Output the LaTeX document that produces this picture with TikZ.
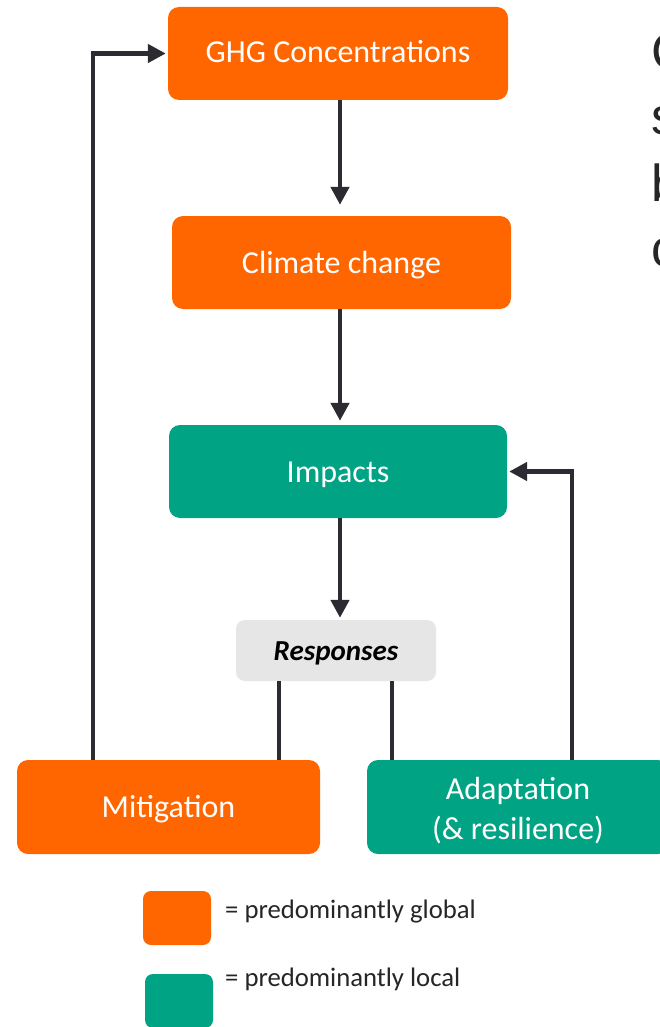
\documentclass[tikz,border=0pt]{standalone}
\usepackage{fontspec}
\setmainfont{Carlito}
\newfontfamily\arialfont{Liberation Sans}
\usetikzlibrary{arrows.meta}
\definecolor{gorange}{HTML}{FF6600}
\definecolor{lgreen}{HTML}{00A383}
\definecolor{rgray}{HTML}{E6E6E6}
\definecolor{linec}{HTML}{2B2B31}
\definecolor{txtc}{HTML}{262626}
\tikzset{
  box/.style={rounded corners=11pt, minimum width=#1, minimum height=93pt, inner sep=0pt, text=white, align=center, text height=28pt, text depth=7pt, font=\fontsize{32}{38}\selectfont},
  obox/.style={box=#1, fill=gorange},
  gbox/.style={box=#1, fill=lgreen},
  arr/.style={draw=linec, line width=4.8pt, -{Triangle[length=18pt,width=18pt]}, shorten >=2pt},
  plain/.style={draw=linec, line width=4.3pt},
  legtxt/.style={anchor=west, text=txtc, font=\fontsize{26.7}{30}\selectfont, inner sep=0pt},
  sidetxt/.style={anchor=base west, text=txtc, font=\arialfont\fontsize{52}{60}\selectfont, inner sep=0pt}
}
\begin{document}
\begin{tikzpicture}[x=1pt,y=-1pt]
\useasboundingbox (0,0) rectangle (660,1027);
\clip (0,0) rectangle (660,1027);
\fill[white] (0,0) rectangle (660,1027);
\node[obox=340pt, text height=26pt] (ghg) at (338,53.5) {GHG Concentrations};
\node[obox=339pt] (climate) at (341.5,262.5) {Climate change};
\node[gbox=338pt] (impacts) at (338,471.5) {Impacts};
\node[rounded corners=9pt, fill=rgray, minimum width=200pt, minimum height=61pt, inner sep=0pt, text height=26pt, text depth=6pt, font=\fontsize{29}{32}\selectfont\bfseries\itshape] (resp) at (336,650.5) {Responses};
\node[obox=303pt, minimum height=94pt] (mitig) at (168.5,807) {Mitigation};
\node[gbox=302pt, minimum height=94pt] (adapt) at (518,807) {};
\node[text=white, align=center, inner sep=0pt, font=\fontsize{32}{40}\selectfont] (adapttxt) at (518,811) {Adaptation\\(\& resilience)};
\node[fill=gorange, rounded corners=8pt, minimum width=68pt, minimum height=54pt, inner sep=0pt] (lego) at (177,918) {};
\node[fill=lgreen, rounded corners=8pt, minimum width=68pt, minimum height=54pt, inner sep=0pt] (legg) at (179,1001) {};
\node[legtxt] (lt1) at (225,912) {= predominantly global};
\node[legtxt] (lt2) at (225,979) {= predominantly local};
\node[sidetxt] (s1) at (651,70) {C};
\node[sidetxt] (s2) at (651,135) {s};
\node[sidetxt] (s3) at (651,201) {b};
\node[sidetxt] (s4) at (651,266) {c};
\coordinate (r1) at (279,681);
\coordinate (r2) at (392,681);
\draw[arr, shorten >=11pt] (ghg.south -| 340,0) -- (climate.north -| 340,0);
\draw[arr, shorten >=4pt] (climate.south -| 340,0) -- (impacts.north -| 340,0);
\draw[arr] (impacts.south -| 340,0) -- (resp.north -| 340,0);
\draw[plain] (r1) -- (r1 |- mitig.north);
\draw[plain] (r2) -- (r2 |- adapt.north);
\draw[arr] ([xshift=-75.5pt]mitig.north) |- (ghg.west);
\draw[arr] ([xshift=54pt]adapt.north) |- (impacts.east);
\end{tikzpicture}
\end{document}
